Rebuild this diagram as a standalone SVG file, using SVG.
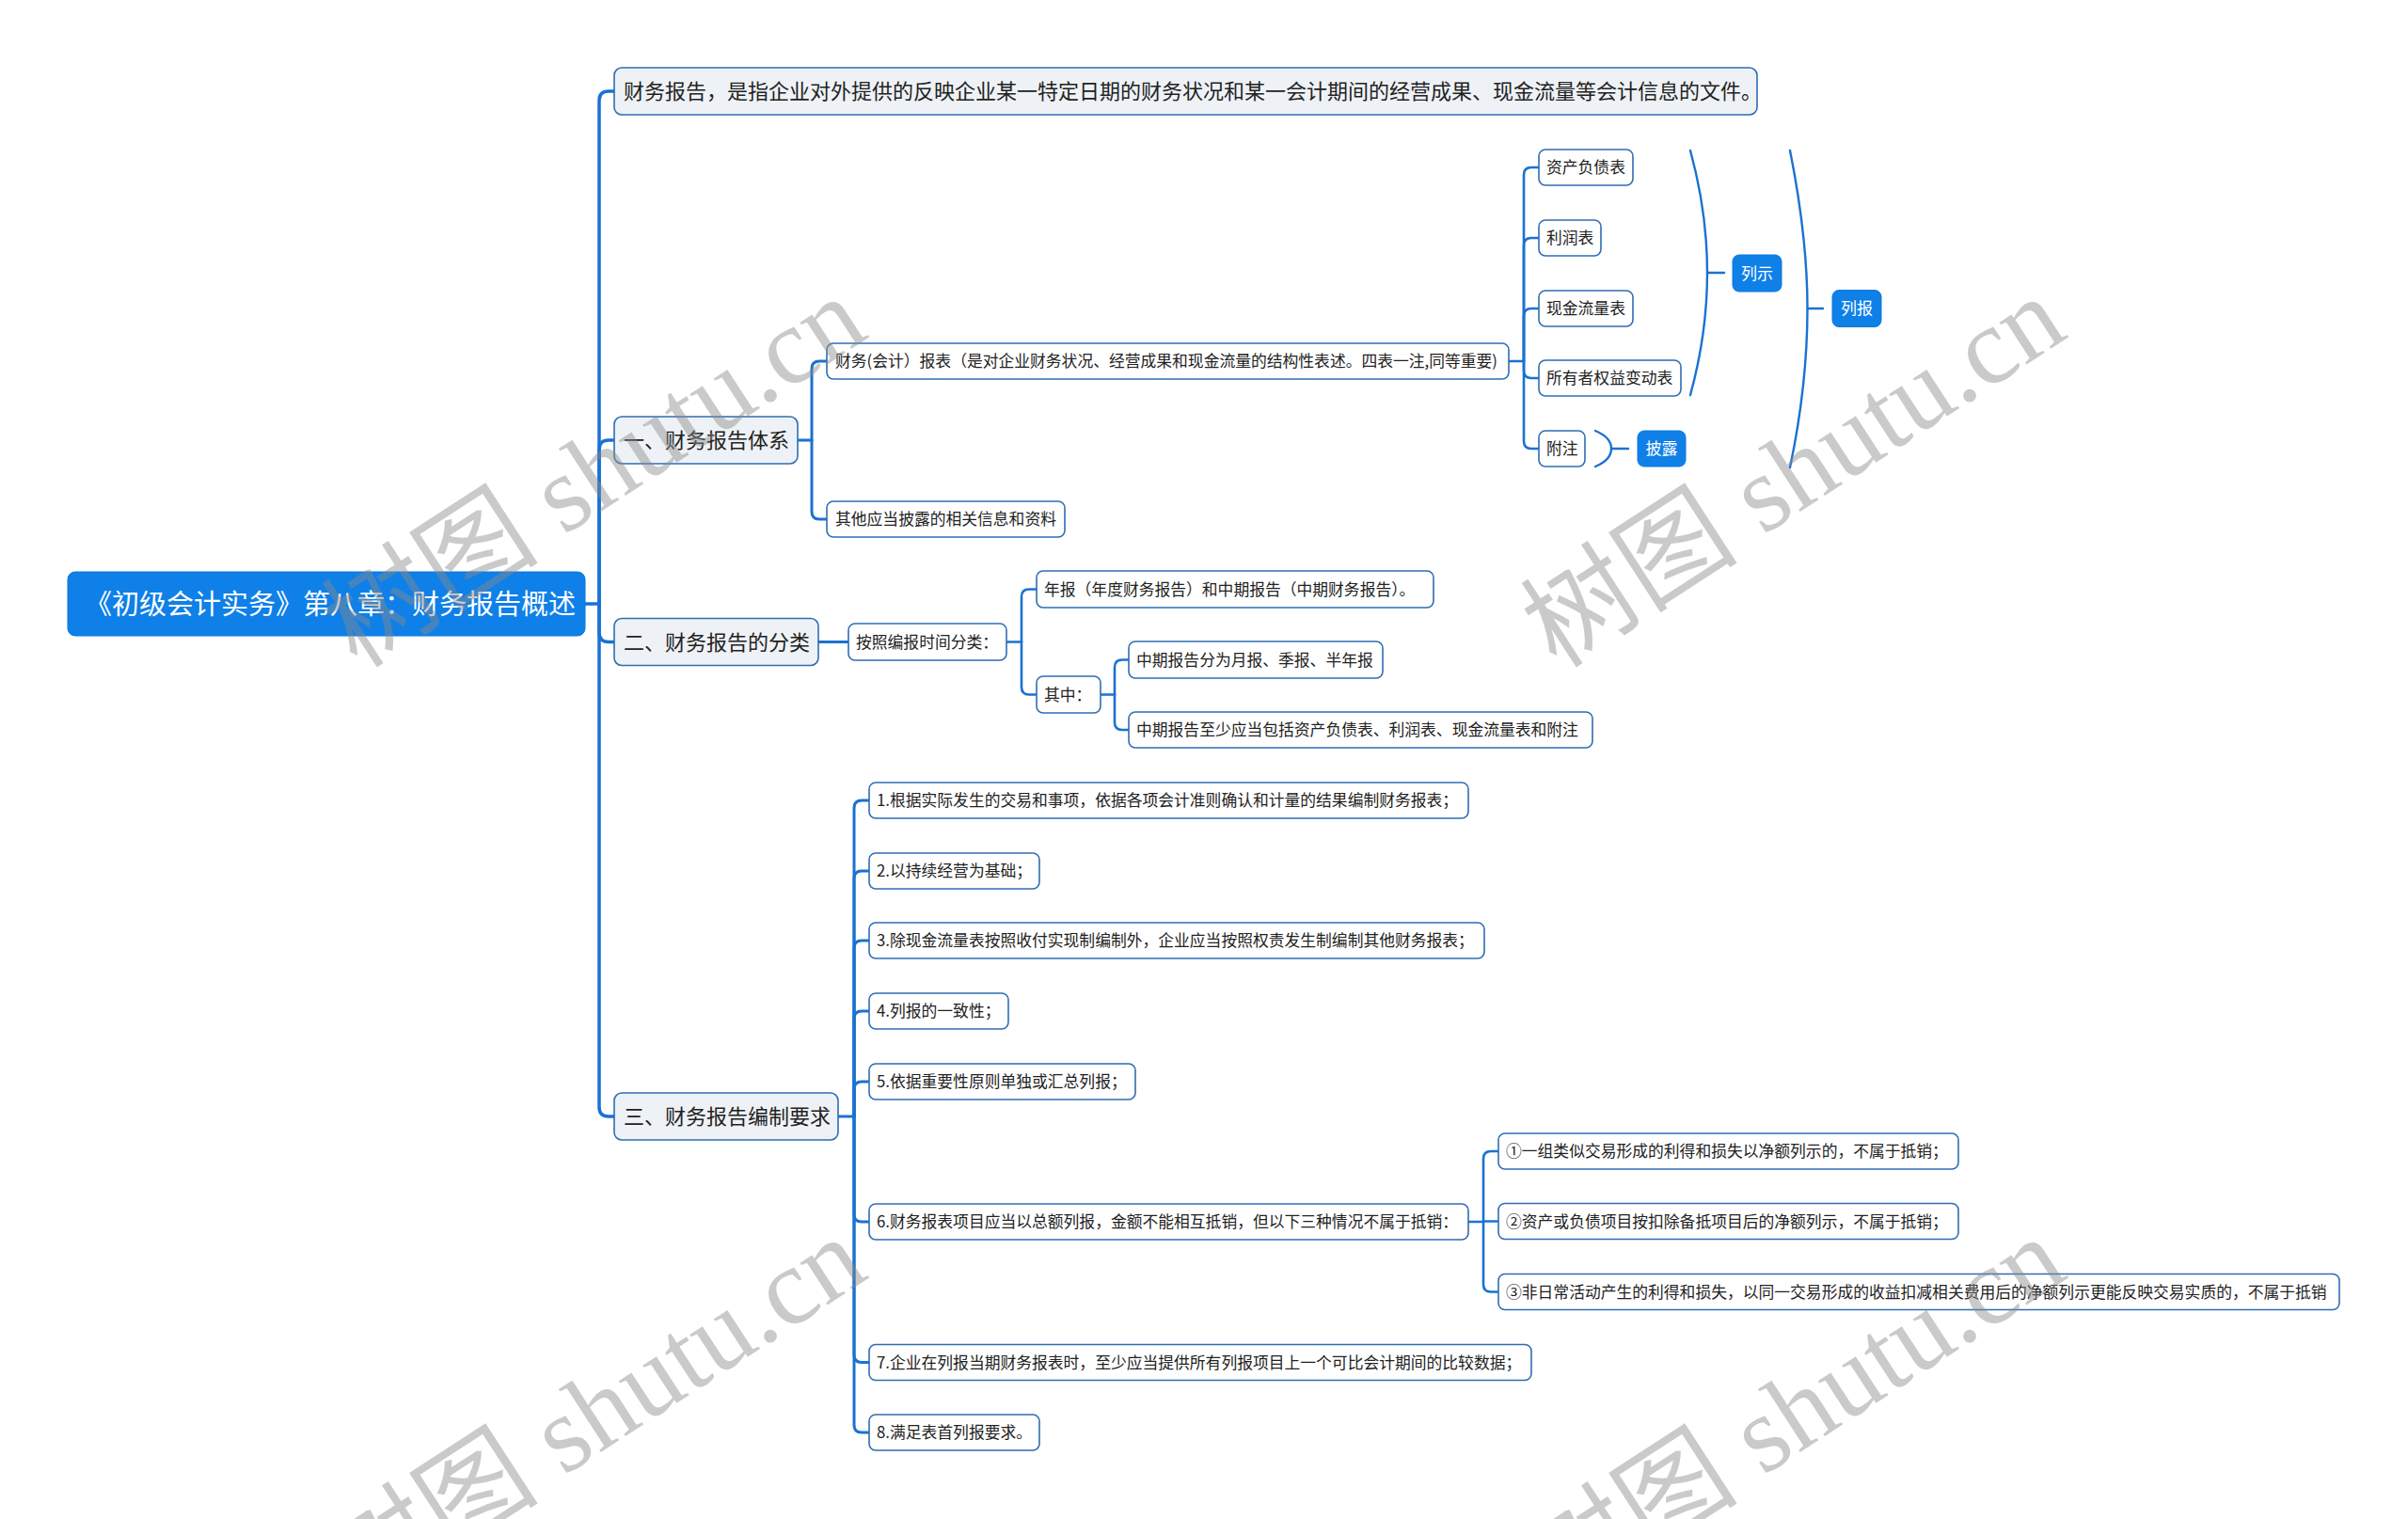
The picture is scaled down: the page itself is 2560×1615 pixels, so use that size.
<svg xmlns="http://www.w3.org/2000/svg" width="2560" height="1615" viewBox="0 0 2560 1615">
<style>
.n rect{fill:#ffffff;stroke:#2f6db5;stroke-width:1.6}
.l1 rect{fill:#eef2f6;stroke:#2f6db5;stroke-width:1.6}
.b rect{fill:#0f80e8;stroke:#0f78da;stroke-width:1}
.t{font-family:"Microsoft YaHei","Noto Sans CJK SC","Noto Sans",sans-serif;font-size:16.8px;fill:#222}
.t1{font-family:"Microsoft YaHei","Noto Sans CJK SC","Noto Sans",sans-serif;font-size:22px;fill:#222}
.tb{font-family:"Microsoft YaHei","Noto Sans CJK SC","Noto Sans",sans-serif;font-size:17px;fill:#ffffff;text-anchor:middle}
.tr{font-family:"Microsoft YaHei","Noto Sans CJK SC","Noto Sans",sans-serif;font-size:29px;fill:#ffffff;text-anchor:middle}
.c path{fill:none;stroke:#1a72d2;stroke-linecap:round;stroke-linejoin:round}
.w{font-family:"Liberation Serif","Noto Sans CJK SC",serif;font-size:116px;fill:#8a8a8a;fill-opacity:0.45}
</style>
<rect x="0" y="0" width="2560" height="1615" fill="#ffffff"/>
<g class="c" id="connectors">
  <g stroke-width="3.5">
    <path d="M622,642 H637"/>
    <path d="M637,642 V107 Q637,97 647,97 H653"/>
    <path d="M637,642 V478 Q637,468 647,468 H653"/>
    <path d="M637,642 V672.5 Q637,682.5 647,682.5 H653"/>
    <path d="M637,642 V1177 Q637,1187 647,1187 H653"/>
  </g>
  <g stroke-width="3">
    <path d="M848,468 H863"/>
    <path d="M863,468 V392 Q863,384 871,384 H879"/>
    <path d="M863,468 V544 Q863,552 871,552 H879"/>
    <path d="M870,682.5 H902"/>
    <path d="M891,1187 H908"/>
    <path d="M908,1187 V859 Q908,851 916,851 H924"/>
    <path d="M908,1187 V934 Q908,926 916,926 H924"/>
    <path d="M908,1187 V1008 Q908,1000 916,1000 H924"/>
    <path d="M908,1187 V1083 Q908,1075 916,1075 H924"/>
    <path d="M908,1187 V1158 Q908,1150 916,1150 H924"/>
    <path d="M908,1187 V1291 Q908,1299 916,1299 H924"/>
    <path d="M908,1187 V1440.5 Q908,1448.5 916,1448.5 H924"/>
    <path d="M908,1187 V1515 Q908,1523 916,1523 H924"/>
  </g>
  <g stroke-width="2.6">
    <path d="M1604,384 H1620"/>
    <path d="M1620,384 V186 Q1620,178 1628,178 H1636"/>
    <path d="M1620,384 V261 Q1620,253 1628,253 H1636"/>
    <path d="M1620,384 V336 Q1620,328 1628,328 H1636"/>
    <path d="M1620,384 V394 Q1620,402 1628,402 H1636"/>
    <path d="M1620,384 V469 Q1620,477 1628,477 H1636"/>
    <path d="M1070,682.5 H1086"/>
    <path d="M1086,682.5 V634.5 Q1086,626.5 1094,626.5 H1102"/>
    <path d="M1086,682.5 V730.5 Q1086,738.5 1094,738.5 H1102"/>
    <path d="M1170,738.5 H1185"/>
    <path d="M1185,738.5 V709.5 Q1185,701.5 1193,701.5 H1200"/>
    <path d="M1185,738.5 V768 Q1185,776 1193,776 H1200"/>
    <path d="M1561,1299 H1577"/>
    <path d="M1577,1299 V1232 Q1577,1224 1585,1224 H1593"/>
    <path d="M1577,1299 V1298.5 H1593"/>
    <path d="M1577,1299 V1365.5 Q1577,1373.5 1585,1373.5 H1593"/>
  </g>
  <g stroke-width="2.4">
    <path d="M1797,160 C1808,200 1815,245 1815,290 C1815,335 1808,380 1797,420"/>
    <path d="M1815,290 H1833"/>
    <path d="M1903,160 C1915,220 1921.5,275 1921.5,328 C1921.5,385 1915,440 1903,497"/>
    <path d="M1921.5,328 H1938"/>
    <path d="M1696,458 Q1713,465 1713,477 Q1713,489 1696,496"/>
    <path d="M1713,477 H1731"/>
  </g>
</g>

<g id="root" class="b"><rect x="72" y="608" width="550" height="68" rx="8"/><text class="tr" x="351" y="653">《初级会计实务》第八章：财务报告概述</text></g>

<g id="def" class="l1"><rect x="653" y="72" width="1215" height="50" rx="8"/><text class="t1" x="663" y="105.4">财务报告，是指企业对外提供的反映企业某一特定日期的财务状况和某一会计期间的经营成果、现金流量等会计信息的文件。</text></g>
<g id="s1" class="l1"><rect x="653" y="443" width="195" height="50" rx="8"/><text class="t1" x="663" y="476.4">一、财务报告体系</text></g>
<g id="s2" class="l1"><rect x="653" y="657.5" width="217" height="50" rx="8"/><text class="t1" x="663" y="690.9">二、财务报告的分类</text></g>
<g id="s3" class="l1"><rect x="653" y="1162" width="238" height="50" rx="8"/><text class="t1" x="663" y="1195.4">三、财务报告编制要求</text></g>

<g id="n-fr" class="n"><rect x="879" y="365" width="725" height="38" rx="7"/><text class="t" x="888" y="390.4">财务(会计）报表（是对企业财务状况、经营成果和现金流量的结构性表述。四表一注,同等重要)</text></g>
<g id="n-other" class="n"><rect x="879" y="533" width="253" height="38" rx="7"/><text class="t" x="888" y="558.4">其他应当披露的相关信息和资料</text></g>
<g id="n-zc" class="n"><rect x="1636" y="159" width="100" height="38" rx="7"/><text class="t" x="1644" y="184.4">资产负债表</text></g>
<g id="n-lr" class="n"><rect x="1636" y="234" width="66" height="38" rx="7"/><text class="t" x="1644" y="259.4">利润表</text></g>
<g id="n-xj" class="n"><rect x="1636" y="309" width="100" height="38" rx="7"/><text class="t" x="1644" y="334.4">现金流量表</text></g>
<g id="n-sy" class="n"><rect x="1636" y="383" width="151" height="38" rx="7"/><text class="t" x="1644" y="408.4">所有者权益变动表</text></g>
<g id="n-fz" class="n"><rect x="1636" y="458" width="49" height="38" rx="7"/><text class="t" x="1644" y="483.4">附注</text></g>
<g id="n-ls" class="b"><rect x="1842" y="271" width="52" height="39" rx="7"/><text class="tb" x="1868" y="296.9">列示</text></g>
<g id="n-lb" class="b"><rect x="1948" y="308.5" width="52" height="39" rx="7"/><text class="tb" x="1974" y="334.4">列报</text></g>
<g id="n-pl" class="b"><rect x="1741" y="458" width="51" height="38" rx="7"/><text class="tb" x="1766.5" y="483.4">披露</text></g>

<g id="n-az" class="n"><rect x="902" y="663" width="168" height="39" rx="7"/><text class="t" x="910" y="688.9">按照编报时间分类：</text></g>
<g id="n-nb" class="n"><rect x="1102" y="607" width="422" height="39" rx="7"/><text class="t" x="1110" y="632.9">年报（年度财务报告）和中期报告（中期财务报告）。</text></g>
<g id="n-qz" class="n"><rect x="1102" y="719" width="68" height="39" rx="7"/><text class="t" x="1110" y="744.9">其中：</text></g>
<g id="n-zq1" class="n"><rect x="1200" y="682" width="270" height="39" rx="7"/><text class="t" x="1208" y="707.9">中期报告分为月报、季报、半年报</text></g>
<g id="n-zq2" class="n"><rect x="1200" y="757" width="493" height="38" rx="7"/><text class="t" x="1208" y="782.4">中期报告至少应当包括资产负债表、利润表、现金流量表和附注</text></g>

<g id="n-r1" class="n"><rect x="924" y="832" width="637" height="38" rx="7"/><text class="t" x="932" y="857.4">1.根据实际发生的交易和事项，依据各项会计准则确认和计量的结果编制财务报表；</text></g>
<g id="n-r2" class="n"><rect x="924" y="907" width="181" height="38" rx="7"/><text class="t" x="932" y="932.4">2.以持续经营为基础；</text></g>
<g id="n-r3" class="n"><rect x="924" y="981" width="654" height="38" rx="7"/><text class="t" x="932" y="1006.4">3.除现金流量表按照收付实现制编制外，企业应当按照权责发生制编制其他财务报表；</text></g>
<g id="n-r4" class="n"><rect x="924" y="1056" width="148" height="38" rx="7"/><text class="t" x="932" y="1081.4">4.列报的一致性；</text></g>
<g id="n-r5" class="n"><rect x="924" y="1131" width="283" height="38" rx="7"/><text class="t" x="932" y="1156.4">5.依据重要性原则单独或汇总列报；</text></g>
<g id="n-r6" class="n"><rect x="924" y="1280" width="637" height="38" rx="7"/><text class="t" x="932" y="1305.4">6.财务报表项目应当以总额列报，金额不能相互抵销，但以下三种情况不属于抵销：</text></g>
<g id="n-s1" class="n"><rect x="1593" y="1205" width="489" height="38" rx="7"/><text class="t" x="1601" y="1230.4">①一组类似交易形成的利得和损失以净额列示的，不属于抵销；</text></g>
<g id="n-s2" class="n"><rect x="1593" y="1279.5" width="489" height="38" rx="7"/><text class="t" x="1601" y="1304.9">②资产或负债项目按扣除备抵项目后的净额列示，不属于抵销；</text></g>
<g id="n-s3" class="n"><rect x="1593" y="1354.5" width="894" height="38" rx="7"/><text class="t" x="1601" y="1379.9">③非日常活动产生的利得和损失，以同一交易形成的收益扣减相关费用后的净额列示更能反映交易实质的，不属于抵销</text></g>
<g id="n-r7" class="n"><rect x="924" y="1429.5" width="704" height="38" rx="7"/><text class="t" x="932" y="1454.9">7.企业在列报当期财务报表时，至少应当提供所有列报项目上一个可比会计期间的比较数据；</text></g>
<g id="n-r8" class="n"><rect x="924" y="1504" width="181" height="38" rx="7"/><text class="t" x="932" y="1529.4">8.满足表首列报要求。</text></g>

<g id="watermark">
  <text class="w" transform="translate(380,712) rotate(-33)">树图 shutu.cn</text>
  <text class="w" transform="translate(1655,712) rotate(-33)">树图 shutu.cn</text>
  <text class="w" transform="translate(380,1712) rotate(-33)">树图 shutu.cn</text>
  <text class="w" transform="translate(1655,1712) rotate(-33)">树图 shutu.cn</text>
</g>
</svg>
